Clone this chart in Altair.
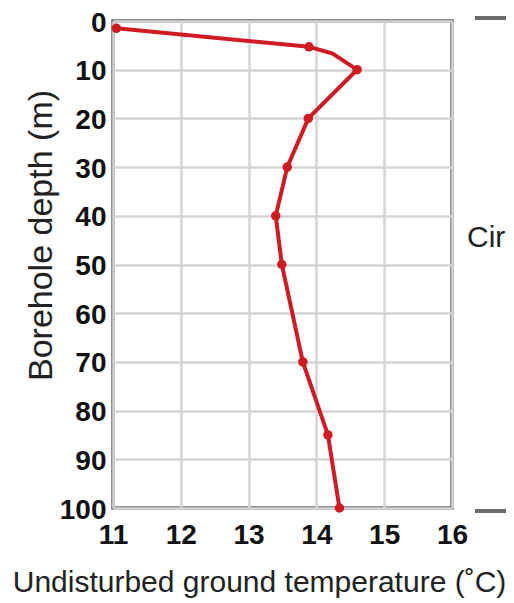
import altair as alt
import pandas as pd

# Marker points (depth in m, temperature in °C)
marker_depth = [1.5, 5.3, 10, 20, 30, 40, 50, 70, 85, 100]
marker_temp = [11.05, 13.89, 14.6, 13.88, 13.57, 13.4, 13.49, 13.8, 14.17, 14.34]

# Line vertices (includes one bend without marker)
line_depth = [1.5, 5.3, 6.7, 10, 20, 30, 40, 50, 70, 85, 100]
line_temp = [11.05, 13.89, 14.24, 14.6, 13.88, 13.57, 13.4, 13.49, 13.8, 14.17, 14.34]

x_ticks = [11, 12, 13, 14, 15, 16]
y_ticks = [0, 10, 20, 30, 40, 50, 60, 70, 80, 90, 100]

x_title = "Undisturbed ground temperature (˚C)"
y_title = "Borehole depth (m)"
side_text = "Circ"

FONT = "Liberation Sans"
RED = "#cf1b24"
GRAY = "#6b6b6b"

markers = pd.DataFrame({"depth": marker_depth, "temp": marker_temp})
line_df = pd.DataFrame({"depth": line_depth, "temp": line_temp,
                        "order": list(range(len(line_depth)))})

x_enc = alt.X("temp:Q",
              scale=alt.Scale(domain=[11, 16], nice=False, zero=False),
              axis=alt.Axis(values=x_ticks, title=x_title, format="d",
                            labelFont=FONT, labelFontSize=28, labelFontWeight="bold",
                            labelColor="#111", labelPadding=13, labelFlush=False,
                            ticks=False, tickSize=0,
                            domain=False, grid=True, gridColor="#d4d4d4", gridWidth=2.5,
                            titleFont=FONT, titleFontSize=30, titleFontWeight="normal",
                            titleColor="#222", titleX=146, titleY=74,
                            titleAlign="center", titleBaseline="middle"))
y_enc = alt.Y("depth:Q",
              scale=alt.Scale(domain=[0, 100], nice=False, reverse=True),
              axis=alt.Axis(values=y_ticks, title=y_title, format="d",
                            labelFont=FONT, labelFontSize=28, labelFontWeight="bold",
                            labelColor="#111", labelPadding=7, labelFlush=False,
                            labelOffset=2, ticks=False, tickSize=0,
                            domain=False, grid=True, gridColor="#d4d4d4", gridWidth=2.5,
                            titleFont=FONT, titleFontSize=34, titleFontWeight="normal",
                            titleColor="#222", titleX=-72, titleY=214, titleAngle=270,
                            titleAlign="center", titleBaseline="middle"))

line = alt.Chart(line_df).mark_line(color=RED, strokeWidth=4).encode(
    x=x_enc, y=y_enc, order="order:Q")
pts = alt.Chart(markers).mark_point(filled=True, color=RED, size=90, opacity=1).encode(
    x="temp:Q", y="depth:Q")

side_df = pd.DataFrame({"label": [side_text]})
side = alt.Chart(side_df).mark_text(font=FONT, fontSize=30, align="left",
                                    baseline="middle", color="#222").encode(
    x=alt.value(354), y=alt.value(217), text="label:N")
dash_top = alt.Chart(side_df).mark_rule(color=GRAY, strokeWidth=4).encode(
    x=alt.value(362), x2=alt.value(420), y=alt.value(-3))
dash_bot = alt.Chart(side_df).mark_rule(color=GRAY, strokeWidth=4).encode(
    x=alt.value(362), x2=alt.value(420), y=alt.value(490))

chart = alt.layer(line, pts, side, dash_top, dash_bot).properties(
    width=339, height=487,
    autosize=alt.AutoSizeParams(type="none"),
    padding={"left": 105, "top": 13, "right": 54, "bottom": 95},
    background="white",
).configure_view(stroke=GRAY, strokeWidth=3.5)

chart.save("out.html", embed_options={"renderer": "svg", "actions": False})
